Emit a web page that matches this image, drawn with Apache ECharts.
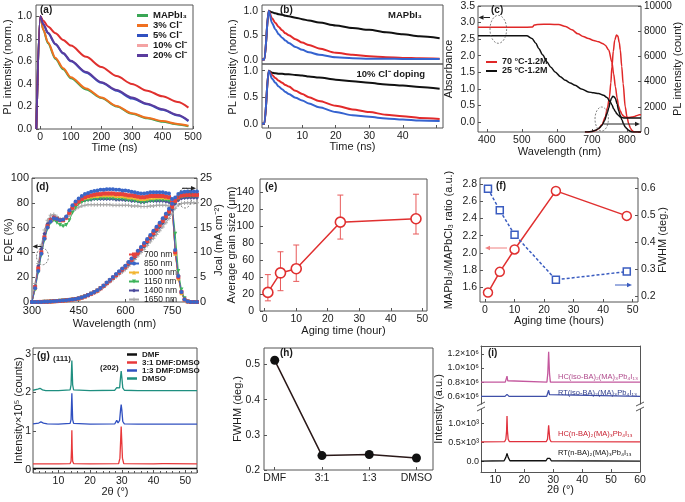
<!DOCTYPE html>
<html><head><meta charset="utf-8">
<script src="https://cdn.jsdelivr.net/npm/echarts@6/dist/echarts.min.js"></script>
<style>html,body{margin:0;padding:0;background:#fff}#c{width:685px;height:502px}</style>
</head><body><div id="c"></div>
<script>
// ================= DATA =================
// (a) TRPL vs Cl content
const aTime   = [-13,0,10,25,50,75,100,150,200,250,300,350,400,450,485];
const aMAPbI3 = [0,1.0,0.88,0.76,0.62,0.53,0.45,0.35,0.275,0.2,0.135,0.095,0.065,0.04,0.025];
const aCl3    = [0,1.0,0.88,0.77,0.63,0.54,0.46,0.36,0.28,0.205,0.14,0.1,0.07,0.045,0.028];
const aCl5    = [0,1.0,0.93,0.85,0.75,0.67,0.6,0.5,0.41,0.34,0.27,0.22,0.17,0.12,0.07];
const aCl10   = [0,1.0,0.96,0.91,0.85,0.79,0.74,0.64,0.55,0.47,0.4,0.34,0.29,0.24,0.19];
const aCl20   = [0,1.0,0.93,0.855,0.755,0.675,0.605,0.505,0.415,0.345,0.28,0.225,0.175,0.125,0.075];
// (b) TRPL, two sub panels
const bTime   = [-2,-1.3,0,1,2,3,4,5,6,8,10,12,15,20,25,30,35,40,45,51];
const bTopK   = [0,0,1.0,0.97,0.95,0.93,0.92,0.9,0.89,0.86,0.83,0.8,0.76,0.7,0.65,0.61,0.56,0.52,0.48,0.44];
const bTopR   = [0,0,1.0,0.85,0.75,0.67,0.6,0.54,0.5,0.42,0.35,0.3,0.23,0.14,0.1,0.07,0.05,0.035,0.027,0.02];
const bTopB   = [0,0,1.0,0.75,0.62,0.52,0.45,0.39,0.34,0.26,0.2,0.15,0.1,0.05,0.03,0.02,0.017,0.015,0.012,0.01];
const bBotK   = [0,0,1.0,0.96,0.95,0.94,0.94,0.93,0.93,0.92,0.91,0.89,0.87,0.83,0.8,0.77,0.74,0.72,0.69,0.66];
const bBotR   = [0,0,1.0,0.92,0.86,0.81,0.77,0.73,0.7,0.62,0.56,0.5,0.43,0.34,0.27,0.22,0.17,0.14,0.11,0.09];
const bBotB   = [0,0,1.0,0.85,0.77,0.7,0.65,0.6,0.56,0.49,0.44,0.38,0.31,0.22,0.16,0.13,0.1,0.08,0.06,0.05];
// (c) absorbance + PL
const cAbs70Wl = [375,400,450,500,530,536,545,580,605,625,643,660,675,690,705,719,730,738,748,757,762,767,772,776,781,786,790,795,805,814,822,829,835,840];
const cAbs70   = [2.86,2.86,2.86,2.86,2.865,2.93,2.945,2.95,2.94,2.88,2.78,2.66,2.58,2.52,2.46,2.42,2.37,2.32,2.17,1.8,1.45,1.06,0.72,0.48,0.33,0.23,0.18,0.15,0.14,0.15,0.17,0.2,0.22,0.22];
const cAbs25Wl = [375,400,450,500,514,529,540,548,560,571,583,595,610,624,638,652,670,690,705,719,733,743,752,757,762,767,771,776,781,788,795,810,840];
const cAbs25   = [2.6,2.6,2.6,2.6,2.6,2.52,2.38,2.22,2.02,1.82,1.65,1.51,1.37,1.26,1.18,1.11,1.0,0.91,0.88,0.86,0.81,0.74,0.61,0.52,0.4,0.32,0.25,0.2,0.15,0.13,0.12,0.12,0.12];
const cPl70Wl  = [680,690,700,710,719,729,738,744,750,754,757,761,765,770,774,778,781,785,789,795,800,805,810,814,820,840];
const cPl70    = [0,0,30,120,265,600,1190,1900,2785,3900,5170,6400,7290,7690,7610,7100,6500,5200,3850,2000,1200,660,300,130,0,0];
const cPl25Wl  = [680,686,700,710,720,729,736,743,748,752,756,760,764,767,772,776,781,786,790,795,800,805,810,814,820,840];
const cPl25    = [0,0,40,130,300,530,900,1460,1900,2390,2700,2840,2780,2650,2200,1720,1300,930,650,400,250,130,50,0,0,0];
// (d) EQE and Jcal, wavelength 300..830 nm, step 10
const dWl = [300,310,320,330,340,350,360,370,380,390,400,410,420,430,440,450,460,470,480,490,500,510,520,530,540,550,560,570,580,590,600,610,620,630,640,650,660,670,680,690,700,710,720,730,740,750,760,770,780,790,800,810,820,830];
const dEqe700 = [0,12,27,40,52,61,66,68,67,66, 66,68,72,76,79,81,83,84.5,85.5,86, 86.5,87,87,87.5,87.5,87.5,87.5,87,87,87, 86.5,86,86,85.5,85,84.5,84.5,85,85.5,85.5, 85.5,85.5,85.5,85,84.5,80,40,20,8,2, 0.5,0,0,0];
const dEqe850 = [0,11,25,39,51,60,65,67.5,67,66, 66.5,69,74,78,81,83.5,85.5,87,88,89, 89.5,90,90.5,90.5,91,91,91,90.5,90.5,90, 90,89.5,89,88.5,88,87.5,87.5,88,88.5,88.5, 88.5,88.5,88.5,88,87.5,83,42,21,8,2, 0.5,0,0,0];
const dEqe1000 = [0,11,26,40,52,61,66,68,67,66, 66,68.5,72.5,76.5,79.5,81.5,83,84,84.5,85, 85.5,85.5,86,86,86,86,86,85.5,85.5,85.5, 85,84.5,84.5,84,83.5,83,83,83.5,84,84, 84.5,84.5,84.5,84,84,79,39,19,7,2, 0.5,0,0,0];
const dEqe1150 = [0,10,24,38,50,59,64,66,64,62, 61,62,66,72,76,79,80.5,81.5,82,82.5, 83,83,83.5,83.5,83.5,83.5,83.5,83,83,83, 82.5,82,82,81.5,81,80.5,80.5,81,81.5,81.5, 82,82,82,82,81.5,79,55,25,10,3, 0.5,0,0,0];
const dEqe1400 = [0,13,29,43,55,63,67,68.5,67,66, 66,68,72,76,79,80.5,81.5,82,82.5,82.5, 83,83,83,83,83,83,83,82.5,82.5,82.5, 82,82,81.5,81.5,81,80.5,80.5,81,81.5,81.5, 81.5,81.5,81.5,81,80.5,77,40,20,8,2, 0.5,0,0,0];
const dEqe1650 = [0,15,31,46,58,66,70,70.5,69,67, 66.5,67.5,70,73,75,76.5,77.5,78,78.5,78.5, 78.5,78.5,78.5,78.5,78.5,78.5,78,78,78,78, 78,78,77.5,77.5,77.5,77,77,77,77.5,77.5, 78,78,78,78,77.5,75,42,21,8,2, 0.5,0,0,0];
const dJ700 = [0,0,0.01,0.02,0.04,0.07,0.1,0.14,0.18,0.23, 0.28,0.35,0.42,0.5,0.6,0.72,0.9,1.12,1.38,1.66, 1.97,2.3,2.75,3.25,3.8,4.35,4.9,5.45,6.0,6.55, 7.1,7.8,8.5,9.25,10.0,10.75,11.5,12.3,13.1,13.9, 14.7,15.5,16.35,17.25,18.2,19.2,20.4,21.1,21.45,21.55, 21.6,21.6,21.6,21.6];
const dJ850 = [0,0,0.01,0.02,0.04,0.07,0.1,0.14,0.19,0.24, 0.29,0.36,0.43,0.52,0.62,0.74,0.93,1.16,1.42,1.71, 2.03,2.37,2.84,3.35,3.92,4.49,5.06,5.62,6.19,6.76, 7.33,8.05,8.77,9.55,10.32,11.09,11.87,12.69,13.52,14.34, 15.17,16.0,16.87,17.8,18.78,19.81,21.05,21.78,22.14,22.24, 22.29,22.29,22.29,22.29];
const dJ1000 = [0,0,0.01,0.02,0.04,0.07,0.1,0.14,0.18,0.23, 0.29,0.36,0.43,0.51,0.61,0.73,0.92,1.14,1.41,1.69, 2.01,2.34,2.8,3.31,3.87,4.43,4.99,5.55,6.11,6.67, 7.23,7.95,8.66,9.43,10.19,10.95,11.72,12.53,13.35,14.16, 14.98,15.79,16.66,17.58,18.55,19.56,20.79,21.5,21.86,21.96, 22.01,22.01,22.01,22.01];
const dJ1150 = [0,0,0.01,0.02,0.04,0.07,0.1,0.14,0.18,0.23, 0.28,0.35,0.41,0.49,0.59,0.71,0.89,1.1,1.36,1.64, 1.94,2.27,2.71,3.2,3.75,4.29,4.83,5.37,5.92,6.46, 7.0,7.69,8.38,9.12,9.86,10.6,11.34,12.13,12.92,13.71, 14.49,15.28,16.12,17.01,17.95,18.93,20.11,20.8,21.15,21.25, 21.3,21.3,21.3,21.3];
const dJ1400 = [0,0,0.01,0.02,0.04,0.07,0.1,0.14,0.17,0.22, 0.27,0.34,0.41,0.49,0.58,0.7,0.87,1.09,1.34,1.61, 1.91,2.24,2.67,3.16,3.69,4.23,4.76,5.3,5.83,6.37, 6.9,7.58,8.26,8.99,9.72,10.45,11.18,11.96,12.73,13.51, 14.29,15.07,15.89,16.77,17.69,18.66,19.83,20.51,20.85,20.95, 21.0,21.0,21.0,21.0];
const dJ1650 = [0,0,0.01,0.02,0.04,0.06,0.09,0.13,0.17,0.21, 0.26,0.32,0.39,0.46,0.56,0.67,0.83,1.04,1.28,1.54, 1.82,2.13,2.55,3.01,3.52,4.03,4.54,5.05,5.56,6.07, 6.57,7.22,7.87,8.57,9.26,9.96,10.65,11.39,12.13,12.87, 13.61,14.36,15.14,15.97,16.85,17.78,18.89,19.54,19.86,19.95, 20.0,20.0,20.0,20.0];
const dNames = ['700 nm','850 nm','1000 nm','1150 nm','1400 nm','1650 nm'];
// (e) grain size vs aging time
const eTime  = [1,5,10,24,48];
const eGrain = [22,45,50,105,109];
const eLow   = [12,24,35,85,91];
const eHigh  = [43,70,78,137,138];
// (f) ratio + FWHM vs aging time
const fTime  = [1,5,10,24,48];
const fRatio = [1.54,1.78,2.04,2.72,2.43];
const fFwhm  = [0.597,0.518,0.428,0.262,0.292];
// (g) XRD for solvents
const gDmfX  = [2,53.7];
const gDmfY  = [0.03,0.03];
const g31X   = [2,10,13.7,14.0,14.15,14.25,14.35,14.5,14.8,20,29.0,29.4,29.65,29.8,29.95,30.2,30.6,40,42.8,43.3,43.8,53.7];
const g31Y   = [0.15,0.15,0.16,0.22,0.55,1.02,0.55,0.22,0.16,0.15,0.16,0.3,0.8,1.12,0.8,0.3,0.16,0.15,0.16,0.18,0.16,0.15];
const g13X   = [2,3.8,4.5,5.3,6.5,10,13.7,14.0,14.15,14.25,14.35,14.5,14.8,20,27.8,28.4,28.8,29.3,29.6,29.8,30.0,30.3,30.8,35,53.7];
const g13Y   = [1.19,1.21,1.24,1.21,1.19,1.18,1.2,1.3,1.7,1.98,1.7,1.3,1.2,1.18,1.19,1.28,1.21,1.28,1.55,1.69,1.55,1.25,1.19,1.18,1.18];
const gDmsoX = [2,3.5,4.2,5,6,10,13.7,14.0,14.15,14.25,14.35,14.5,14.8,20,27.8,28.4,28.8,29.3,29.6,29.8,30.0,30.3,30.8,35,53.7];
const gDmsoY = [2.06,2.09,2.11,2.07,2.05,2.05,2.07,2.2,2.6,2.83,2.6,2.2,2.07,2.05,2.06,2.13,2.08,2.12,2.4,2.56,2.4,2.12,2.06,2.05,2.05];
// (h) FWHM per solvent
const hCats = ['DMF','3:1','1:3','DMSO'];
const hPos  = [0,1,2,3];
const hFwhm = [0.512,0.241,0.244,0.234];
// (i) XRD, broken axis (upper in 1e6, lower in 1e3)
const iHcIsoX = [5,13.4,13.75,14.0,14.25,14.6,27.8,28.1,28.4,28.7,29.0,60];
const iHcIsoY = [0.8,0.8,0.82,0.885,0.82,0.8,0.8,0.92,1.23,0.92,0.8,0.8];
const iRtIsoX = [5,13.3,13.7,14.0,14.3,14.7,27.7,28.1,28.4,28.7,29.1,60];
const iRtIsoY = [0.6,0.6,0.61,0.628,0.61,0.6,0.6,0.625,0.685,0.625,0.6,0.6];
const iHcNX = [5,13.2,13.6,13.85,14.0,14.15,14.4,14.8,27.6,28.0,28.25,28.4,28.55,28.8,29.2,60];
const iHcNY = [0.51,0.52,0.58,0.8,1.2,0.8,0.58,0.52,0.52,0.58,0.8,0.955,0.8,0.58,0.52,0.51];
const iRtNX = [5,13.0,13.6,14.0,14.4,15.0,27.5,28.0,28.4,28.8,29.3,60];
const iRtNY = [0,0.01,0.1,0.206,0.1,0.01,0.01,0.07,0.118,0.07,0.01,0];

// ================= STYLE / BUILD =================
const FONT = '"Liberation Sans", Arial, Helvetica, sans-serif';
const TXT = '#1a1a1a';
const AX = '#555';
const zip = (xs, ys) => xs.map((x, i) => [x, ys[i]]);

function grid(l, t, w, h, show) {
  return {left: l, top: t, width: w, height: h, show: show !== false, borderColor: AX, borderWidth: 1,
          backgroundColor: 'transparent', containLabel: false, outerBoundsMode: 'none'};
}
function axis(o) {
  const lab = {show: o.label !== false, fontSize: o.fs || 10.5, color: TXT, fontFamily: FONT,
               margin: o.margin == null ? 3 : o.margin, showMinLabel: !!o.smin, showMaxLabel: !!o.smax};
  if (o.fmt) lab.formatter = o.fmt;
  const a = {
    type: 'value', gridIndex: o.g, min: o.min, max: o.max,
    splitLine: {show: false},
    axisLine: {show: !!o.line, onZero: false, lineStyle: {color: AX, width: 1}},
    axisTick: {show: o.tick !== false, inside: true, length: 3, lineStyle: {color: AX}},
    axisLabel: lab,
    name: o.name || '', nameLocation: 'middle', nameGap: o.gap || 0, nameMoveOverlap: false,
    nameTextStyle: {fontSize: o.nfs || 11, color: TXT, fontFamily: FONT},
    silent: true
  };
  if (o.pos) a.position = o.pos;
  if (o.interval != null) a.interval = o.interval;
  if (o.split != null) a.splitNumber = o.split;
  if (o.minor) a.minorTick = {show: true, splitNumber: o.minor, length: 2, lineStyle: {color: AX}};
  return a;
}
const f1 = v => v.toFixed(1);

function line(name, xi, yi, data, color, ex) {
  return Object.assign({type: 'line', name, xAxisIndex: xi, yAxisIndex: yi, data, symbol: 'none', showSymbol: false,
    smooth: 0.3, smoothMonotone: 'x', lineStyle: {color, width: 2}, itemStyle: {color}, silent: true, animation: false}, ex || {});
}

const grids = [
  grid(36, 5, 157, 124),     // 0 a
  grid(262, 5, 181, 59),     // 1 b top
  grid(262, 64, 181, 64),    // 2 b bottom
  grid(478, 6, 163, 126),    // 3 c
  grid(32, 178, 165, 124),   // 4 d
  grid(260, 179, 167, 132),  // 5 e
  grid(480, 178, 158, 124),  // 6 f
  grid(33, 348, 164, 125),   // 7 g
  grid(264, 348, 169, 122),  // 8 h
  grid(481, 346, 159, 61, false), // 9 i upper
  grid(481, 407, 159, 65, false)  // 10 i lower
];

const xAxes = [
  axis({g:0, min:-14, max:500, split:5, smax:true, name:'Time (ns)', gap:13}),
  axis({g:1, min:-2, max:52, split:5, label:false, tick:false}),
  axis({g:2, min:-2, max:52, split:5, name:'Time (ns)', gap:13, fmt: v => v > 45 ? '' : String(v)}),
  axis({g:3, min:375, max:840, split:5, name:'Wavelength (nm)', gap:14}),
  axis({g:4, min:300, max:830, interval:150, smin:true, name:'Wavelength (nm)', gap:16, fs:11}),
  axis({g:5, min:-1.5, max:51.5, split:5, name:'Aging time (hour)', gap:14}),
  axis({g:6, min:-1.7, max:51.8, split:5, name:'Aging time (hours)', gap:13}),
  axis({g:7, min:2, max:53.7, split:5, minor:5, name:'2θ (°)', gap:13}),
  axis({g:8, min:-0.227, max:3.35, split:3, fmt: v => (hCats[Math.round(v)] !== undefined && Math.abs(v - Math.round(v)) < 1e-6) ? hCats[Math.round(v)] : ''}),
  axis({g:9, min:5, max:60, split:5, pos:'top', line:true, label:false, tick:false}),
  axis({g:10, min:5, max:60, split:5, smax:true, pos:'bottom', line:true, name:'2θ (°)', gap:12.5})
];
const yAxes = [
  axis({g:0, min:0, max:1.1, interval:0.2, smin:true, fmt:f1, margin:4, name:'PL intensity (norm.)', gap:23}),
  axis({g:1, min:-0.09, max:1.12, split:2, fmt:f1, margin:4}),
  axis({g:2, min:-0.08, max:1.125, split:2, fmt:f1, margin:4}),
  axis({g:3, min:-0.3, max:3.5, split:8, smax:true, fmt:f1, name:'Absorbance', gap:23.5}),
  axis({g:3, min:0, max:10000, interval:2000, smin:true, smax:true, fs:10, fmt: v => String(v), pos:'right', name:'PL intensity (count)', gap:31}),
  axis({g:4, min:0, max:100, interval:20, smin:true, smax:true, fs:11, name:'EQE (%)', gap:17.5}),
  axis({g:4, min:0, max:25, interval:5, smin:true, smax:true, fs:11, pos:'right', name:'Jcal (mA cm⁻²)', gap:16}),
  axis({g:5, min:0, max:156, interval:20, smin:true, margin:6, name:'Average grain size (μm)', gap:22.8}),
  axis({g:6, min:1.43, max:2.87, split:7, fmt:f1, name:'MAPbI₃/MAPbCl₃ ratio (a.u.)', gap:25.5}),
  axis({g:6, min:0.18, max:0.637, split:5, fmt:f1, pos:'right', name:'FWHM (deg.)', gap:19.5}),
  axis({g:7, min:-0.085, max:3.155, split:3, margin:2, name:'Intensity×10⁵ (counts)', gap:9}),
  axis({g:8, min:0.2, max:0.547, interval:0.1, smin:true, fmt:f1, margin:4, name:'FWHM (deg.)', gap:20.5}),
  axis({g:9, min:0.45, max:1.31, split:4, line:true, fs:9, margin:2, fmt: v => v.toFixed(1) + '×10⁶'}),
  axis({g:9, min:0.45, max:1.31, split:4, pos:'right', line:true, label:false, tick:false}),
  axis({g:10, min:-0.29, max:1.44, split:3, line:true, fs:9, margin:2, fmt: v => Math.abs(v) < 1e-9 ? '0.0' : v.toFixed(1) + '×10³'}),
  axis({g:10, min:-0.29, max:1.44, split:3, pos:'right', line:true, label:false, tick:false})
];

const series = [];
// (a)
series.push(line('MAPbI₃', 0, 0, zip(aTime, aMAPbI3), '#3aa655'));
series.push(line('3% Cl⁻', 0, 0, zip(aTime, aCl3), '#f07020'));
series.push(line('5% Cl⁻', 0, 0, zip(aTime, aCl5), '#3050c0'));
series.push(line('10% Cl⁻', 0, 0, zip(aTime, aCl10), '#e0302e'));
series.push(line('20% Cl⁻', 0, 0, zip(aTime, aCl20), '#5a3c9e'));
// (b)
series.push(line('bTopK', 1, 1, zip(bTime, bTopK), '#111'));
series.push(line('bTopR', 1, 1, zip(bTime, bTopR), '#e22a2a'));
series.push(line('bTopB', 1, 1, zip(bTime, bTopB), '#3563d0'));
series.push(line('bBotK', 2, 2, zip(bTime, bBotK), '#111'));
series.push(line('bBotR', 2, 2, zip(bTime, bBotR), '#e22a2a'));
series.push(line('bBotB', 2, 2, zip(bTime, bBotB), '#3563d0'));
// (c)
series.push(line('70 °C-1.2M', 3, 3, zip(cAbs70Wl, cAbs70), '#e02828', {lineStyle:{color:'#e02828', width:1.5}}));
series.push(line('70 °C-1.2M', 3, 4, zip(cPl70Wl, cPl70), '#e02828', {lineStyle:{color:'#e02828', width:1.5}}));
series.push(line('25 °C-1.2M', 3, 3, zip(cAbs25Wl, cAbs25), '#111', {lineStyle:{color:'#111', width:1.5}}));
series.push(line('25 °C-1.2M', 3, 4, zip(cPl25Wl, cPl25), '#111', {lineStyle:{color:'#111', width:1.5}}));
// (d)
const dColors = ['#e8413c','#3a66c8','#f2b530','#3db35a','#4b4a9c','#a8a8a8'];
const dSymbols = ['rect','circle','triangle','triangle','diamond','path://M3,0h2v3h3v2h-3v3h-2v-3h-3v-2h3z'];
const dRot = [0,0,0,180,0,0];
const dEqe = [dEqe700, dEqe850, dEqe1000, dEqe1150, dEqe1400, dEqe1650];
const dJ = [dJ700, dJ850, dJ1000, dJ1150, dJ1400, dJ1650];
const dOrder = [5,4,3,2,0,1];
dOrder.forEach(k => {
  const st = {symbol: dSymbols[k], symbolRotate: dRot[k], symbolSize: 4, showSymbol: true, smooth: false,
              lineStyle: {color: dColors[k], width: 1}};
  series.push(line(dNames[k], 4, 5, zip(dWl, dEqe[k]), dColors[k], st));
  series.push(line(dNames[k], 4, 6, zip(dWl, dJ[k]), dColors[k], Object.assign({}, st)));
});
// (e)
const ER = '#e03030';
series.push(line('grain', 5, 7, zip(eTime, eGrain), ER, {smooth: false, symbol: 'circle', symbolSize: 10, showSymbol: true,
  lineStyle: {color: ER, width: 1.5}, itemStyle: {color: '#fff', borderColor: ER, borderWidth: 1.6}}));
series.push({type: 'custom', name: 'grainErr', xAxisIndex: 5, yAxisIndex: 7, z: 3, silent: true,
  data: eTime.map((t, i) => [t, eLow[i], eHigh[i]]),
  encode: {x: 0, y: [1, 2]},
  renderItem: (params, api) => {
    const x = api.value(0), p1 = api.coord([x, api.value(1)]), p2 = api.coord([x, api.value(2)]);
    const w = 3, st = {stroke: '#e85a5a', lineWidth: 1};
    return {type: 'group', children: [
      {type: 'line', shape: {x1: p1[0], y1: p1[1], x2: p2[0], y2: p2[1]}, style: st},
      {type: 'line', shape: {x1: p1[0] - w, y1: p1[1], x2: p1[0] + w, y2: p1[1]}, style: st},
      {type: 'line', shape: {x1: p2[0] - w, y1: p2[1], x2: p2[0] + w, y2: p2[1]}, style: st}]};
  }});
// (f)
series.push(line('ratio', 6, 8, zip(fTime, fRatio), ER, {smooth: false, symbol: 'circle', symbolSize: 9, showSymbol: true,
  lineStyle: {color: ER, width: 1.5}, itemStyle: {color: '#fff', borderColor: ER, borderWidth: 1.5}}));
const FB = '#3a5cc0';
series.push(line('fwhmF', 6, 9, zip(fTime, fFwhm), FB, {smooth: false, symbol: 'rect', symbolSize: 7, showSymbol: true,
  lineStyle: {color: FB, width: 1.5, type: [3, 2]}, itemStyle: {color: '#fff', borderColor: FB, borderWidth: 1.5}}));
// (g)
series.push(line('DMF', 7, 10, zip(gDmfX, gDmfY), '#111', {smooth: false, lineStyle: {color: '#111', width: 1.5}}));
series.push(line('3:1 DMF:DMSO', 7, 10, zip(g31X, g31Y), '#e8383a', {smooth: false, lineStyle: {color: '#e8383a', width: 1.3}}));
series.push(line('1:3 DMF:DMSO', 7, 10, zip(g13X, g13Y), '#3050c0', {smooth: false, lineStyle: {color: '#3050c0', width: 1.3}}));
series.push(line('DMSO', 7, 10, zip(gDmsoX, gDmsoY), '#1f8f80', {smooth: false, lineStyle: {color: '#1f8f80', width: 1.3}}));
// (h)
series.push(line('fwhmH', 8, 11, zip(hPos, hFwhm), '#111', {smooth: false, symbol: 'circle', symbolSize: 9, showSymbol: true,
  lineStyle: {color: '#2a1818', width: 1.5}, itemStyle: {color: '#111'}}));
// (i)
series.push(line('HCiso', 9, 12, zip(iHcIsoX, iHcIsoY), '#c4589e', {smooth: false, lineStyle: {color: '#c4589e', width: 1.3}}));
series.push(line('RTiso', 9, 12, zip(iRtIsoX, iRtIsoY), '#3f4fa8', {smooth: false, lineStyle: {color: '#3f4fa8', width: 1.3}}));
series.push(line('HCn', 10, 14, zip(iHcNX, iHcNY), '#e0303c', {smooth: false, lineStyle: {color: '#e0303c', width: 1.3}}));
series.push(line('RTn', 10, 14, zip(iRtNX, iRtNY), '#111', {smooth: false, lineStyle: {color: '#111', width: 1.3}}));

// legends
function leg(left, top, names, o) {
  return Object.assign({orient: 'vertical', left, top, padding: 0, itemGap: 0, selectedMode: false,
    itemWidth: 11, itemHeight: 3, icon: 'rect',
    textStyle: {fontSize: o.fs, fontWeight: o.bold ? 'bold' : 'normal', color: TXT, fontFamily: FONT, lineHeight: o.lh},
    data: names}, o.ex || {});
}
const legends = [
  leg(137, 10.5, ['MAPbI₃','3% Cl⁻','5% Cl⁻',{name:'10% Cl⁻', itemStyle:{color:'#f4a3a3'}},'20% Cl⁻'], {fs: 9.5, bold: true, lh: 9.4}),
  leg(486, 57.5, ['70 °C-1.2M','25 °C-1.2M'], {fs: 9, bold: true, lh: 8.3, ex: {itemHeight: 2}}),
  leg(128, 250, dNames, {fs: 8.5, bold: false, lh: 8.3, ex: {itemWidth: 10, itemHeight: 5}}),
  leg(127, 350.5, ['DMF','3:1 DMF:DMSO','1:3 DMF:DMSO','DMSO'], {fs: 8, bold: true, lh: 7.2, ex: {itemWidth: 10, itemHeight: 2.5}})
];
delete legends[2].icon;

// graphic annotations
const gfx = [];
function txt(x, y, s, o) {
  o = o || {};
  return {type: 'text', x, y, rotation: o.rot || 0, silent: true, z: 100,
    style: {text: s, fill: o.color || TXT, font: (o.weight || 'normal') + ' ' + (o.size || 10) + 'px ' + FONT,
            align: o.align || 'left', verticalAlign: o.va || 'middle'}};
}
function arrow(x1, y1, x2, y2, color) {
  const ang = Math.atan2(y2 - y1, x2 - x1), L = 5, W = 2.3;
  const bx = x2 - L * Math.cos(ang), by = y2 - L * Math.sin(ang);
  const px = -Math.sin(ang) * W, py = Math.cos(ang) * W;
  gfx.push({type: 'line', silent: true, z: 100, shape: {x1, y1, x2: bx, y2: by}, style: {stroke: color, lineWidth: 1}});
  gfx.push({type: 'polygon', silent: true, z: 100, shape: {points: [[x2, y2], [bx + px, by + py], [bx - px, by - py]]}, style: {fill: color}});
}
function ell(cx, cy, rx, ry) {
  gfx.push({type: 'ellipse', silent: true, z: 100, shape: {cx, cy, rx, ry}, style: {fill: 'none', stroke: '#666', lineWidth: 0.8, lineDash: [2, 1.5]}});
}
const PB = {weight: 'bold', size: 10};
gfx.push(txt(40, 10, '(a)', PB));
gfx.push(txt(280, 10, '(b)', PB));
gfx.push(txt(491, 10, '(c)', PB));
gfx.push(txt(36, 187, '(d)', PB));
gfx.push(txt(265, 187, '(e)', PB));
gfx.push(txt(496, 186, '(f)', PB));
gfx.push(txt(37, 356, '(g)', PB));
gfx.push(txt(280, 353, '(h)', PB));
gfx.push(txt(488, 353, '(i)', PB));
gfx.push(txt(422, 15, 'MAPbI₃', {weight: 'bold', size: 9.5, align: 'right'}));
gfx.push(txt(425, 74, '10% Cl⁻ doping', {weight: 'bold', size: 9.5, align: 'right'}));
gfx.push(txt(233, 67, 'PL intensity (norm.)', {size: 11, align: 'center', rot: Math.PI / 2}));
gfx.push(txt(439, 409, 'Intensity (a.u.)', {size: 11, align: 'center', rot: Math.PI / 2}));
gfx.push(txt(53, 359, '(111)', {weight: 'bold', size: 8}));
gfx.push(txt(100, 368, '(202)', {weight: 'bold', size: 8}));
gfx.push(txt(558, 376.7, 'HC(iso-BA)₂(MA)₃Pb₄I₁₃', {size: 7.5, color: '#b04a8c'}));
gfx.push(txt(558, 393, 'RT(iso-BA)₂(MA)₃Pb₄I₁₃', {size: 7.5, color: '#2e3c8a'}));
gfx.push(txt(558, 434.3, 'HC(n-BA)₂(MA)₃Pb₄I₁₃', {size: 7.5, color: '#c82030'}));
gfx.push(txt(558, 453.3, 'RT(n-BA)₂(MA)₃Pb₄I₁₃', {size: 7.5, color: '#111'}));
// (c) ellipses + arrows
ell(498.3, 29.3, 8.3, 14); arrow(490, 17.5, 478.5, 17.5, '#222');
ell(601.7, 119, 6.7, 12); arrow(604, 124, 640, 124, '#222');
// (d)
ell(42.5, 256.5, 6, 8.3); arrow(41.5, 246.5, 32.5, 246.5, '#222');
ell(185, 198, 6.7, 10); arrow(182, 188.3, 196, 188.3, '#222');
// (f)
arrow(507, 248, 485, 248, '#f08080');
arrow(615, 285, 632, 285, '#3a5cc0');
// (i) axis break marks
[481, 640].forEach(x => {
  gfx.push({type: 'rect', silent: true, z: 100, shape: {x: x - 3, y: 404.5, width: 6, height: 4.5}, style: {fill: '#fff'}});
  gfx.push({type: 'line', silent: true, z: 101, shape: {x1: x - 4, y1: 406, x2: x + 4, y2: 402}, style: {stroke: '#444', lineWidth: 0.9}});
  gfx.push({type: 'line', silent: true, z: 101, shape: {x1: x - 4, y1: 411, x2: x + 4, y2: 407}, style: {stroke: '#444', lineWidth: 0.9}});
});

const chart = echarts.init(document.getElementById('c'), null, {renderer: 'canvas'});
chart.setOption({
  animation: false,
  backgroundColor: '#fff',
  textStyle: {fontFamily: FONT},
  grid: grids, xAxis: xAxes, yAxis: yAxes, legend: legends, series: series,
  graphic: {elements: gfx}
});
</script></body></html>
